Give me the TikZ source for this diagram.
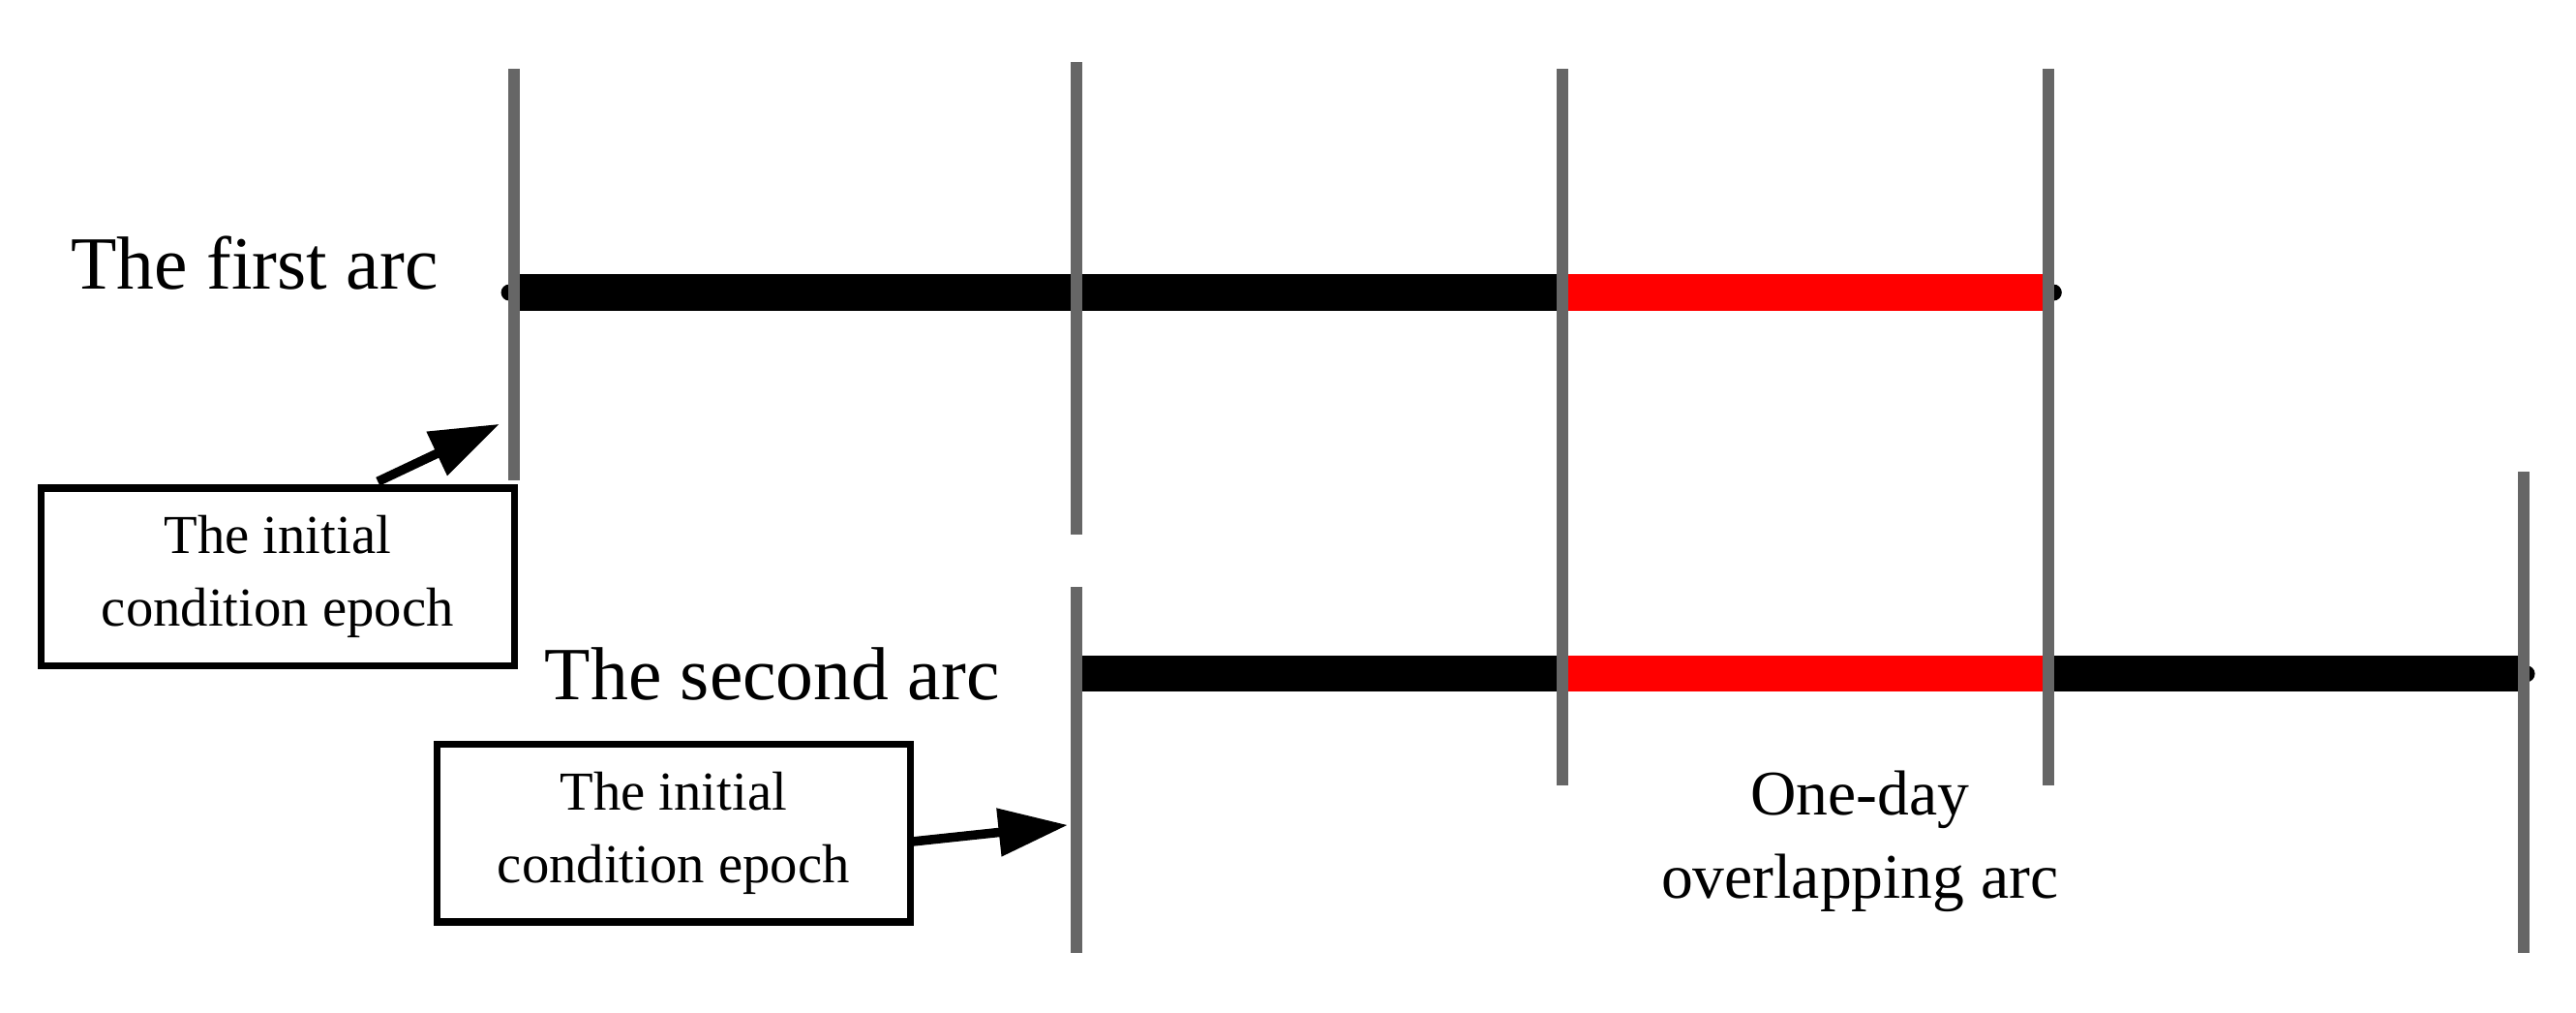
\documentclass[tikz,border=0pt]{standalone}
\usepackage{fontspec}
\setmainfont{Liberation Serif}
\usetikzlibrary{arrows.meta}
\begin{document}
\begin{tikzpicture}[x=0.01cm,y=-0.01cm,
  vline/.style={draw=black!60,line width=7*0.2845pt},
  bar/.style={line width=22*0.2845pt},
  lbl/.style={font=\fontsize{13pt}{15pt}\selectfont},
  boxlbl/.style={draw,line width=1.2pt,minimum width=288*0.01cm,minimum height=108*0.01cm,align=center,font=\fontsize{9.5pt}{12.5pt}\selectfont},
  arr/.style={line width=1.6pt,-{Triangle[length=12pt,width=8pt]}}]
\useasboundingbox (0,0) rectangle (1568,616);
% arcs
\coordinate (a1s) at (310,178); \coordinate (a1m) at (951,178); \coordinate (a1e) at (1250,178);
\coordinate (a2s) at (655,410); \coordinate (a2m) at (951,410); \coordinate (a2r) at (1247,410); \coordinate (a2e) at (1538,410);
\fill (a1s) circle (5); \fill (a1e) circle (5); \fill (a2e) circle (5);
\draw[bar,black] (a1s) -- (a1m);
\draw[bar,red] (a1m) -- (a1e);
\draw[bar,black] (a2s) -- (a2m);
\draw[bar,red] (a2m) -- (a2r);
\draw[bar,black] (a2r) -- (a2e);
% vertical lines
\draw[vline] (313,42) coordinate (v1t) -- (313,292) coordinate (v1b);
\draw[vline] (655,38) -- (655,325);
\draw[vline] (951,42) -- (951,478);
\draw[vline] (1247,42) -- (1247,478);
\draw[vline] (655,357) -- (655,580);
\draw[vline] (1536,287) -- (1536,580);
% labels
\node[lbl] (t1) at (155,160) {The first arc};
\node[lbl] (t2) at (470,410) {The second arc};
\node[boxlbl] (b1) at (169,351) {The initial\\condition epoch};
\node[boxlbl] (b2) at (410,507) {The initial\\condition epoch};
\coordinate (p1) at (304,258);
\coordinate (p2) at (650,502);
\draw[arr] (230,293) -- (p1);
\draw[arr] (b2.east |- 0,512) -- (p2);
\node[align=center,font=\fontsize{11pt}{14.5pt}\selectfont] (ov) at (1132,512) {One-day\\overlapping arc};
\end{tikzpicture}
\end{document}
